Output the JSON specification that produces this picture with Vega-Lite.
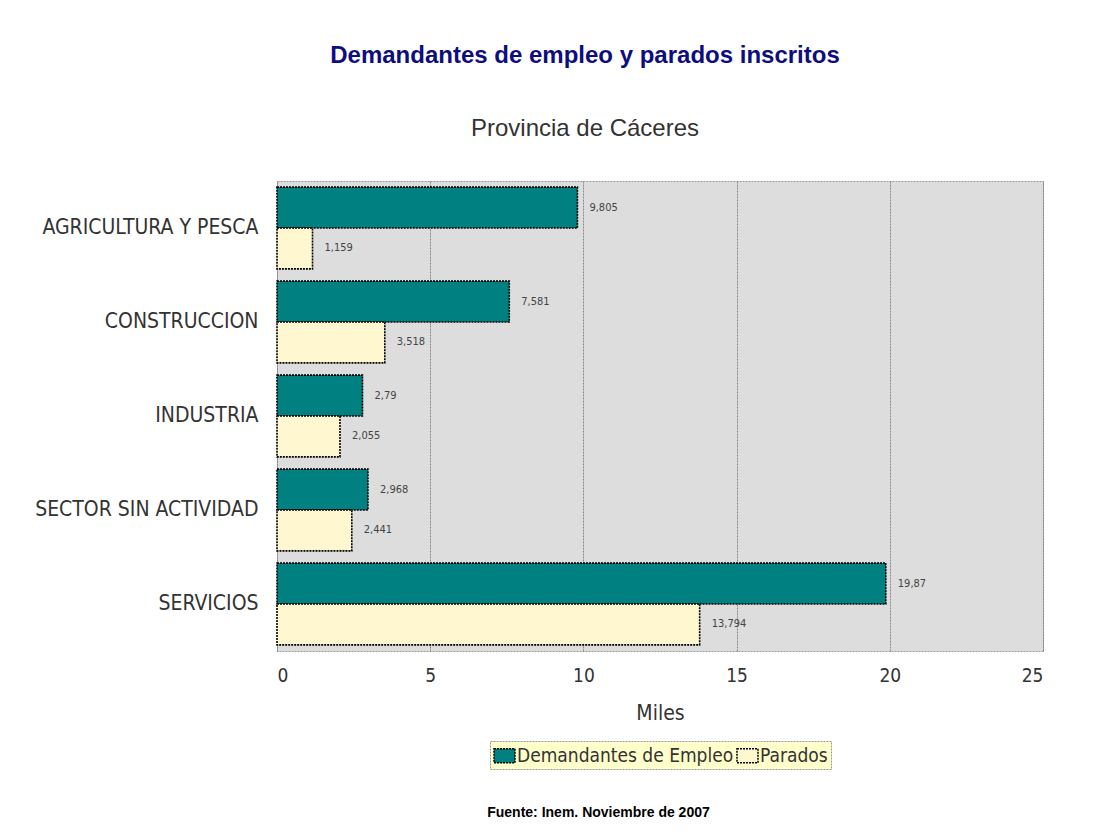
{
  "$schema": "https://vega.github.io/schema/vega-lite/v6.json",
  "width": 766,
  "height": 470,
  "autosize": {"type": "none"},
  "padding": {"left": 277, "top": 181, "right": 61, "bottom": 188},
  "background": "white",
  "title": {
    "text": "Demandantes de empleo y parados inscritos",
    "subtitle": "Provincia de Cáceres",
    "anchor": "middle",
    "dx": -75,
    "offset": 40,
    "font": "Liberation Sans",
    "fontSize": 24,
    "fontWeight": "bold",
    "color": "#0d0d80",
    "subtitleFont": "Liberation Sans",
    "subtitleFontSize": 24,
    "subtitleColor": "#333333",
    "subtitlePadding": 49
  },
  "config": {
    "locale": {"number": {"decimal": ",", "thousands": ".", "grouping": [3], "currency": ["", " €"]}},
    "view": {"fill": "#dddddd", "stroke": "#999999", "strokeDash": [2, 1]},
    "legend": {"strokeDash": [2, 1]}
  },
  "data": {
    "values": [
      {"sector": "AGRICULTURA Y PESCA", "serie": "Demandantes de Empleo", "miles": 9.805},
      {"sector": "AGRICULTURA Y PESCA", "serie": "Parados", "miles": 1.159},
      {"sector": "CONSTRUCCION", "serie": "Demandantes de Empleo", "miles": 7.581},
      {"sector": "CONSTRUCCION", "serie": "Parados", "miles": 3.518},
      {"sector": "INDUSTRIA", "serie": "Demandantes de Empleo", "miles": 2.79},
      {"sector": "INDUSTRIA", "serie": "Parados", "miles": 2.055},
      {"sector": "SECTOR SIN ACTIVIDAD", "serie": "Demandantes de Empleo", "miles": 2.968},
      {"sector": "SECTOR SIN ACTIVIDAD", "serie": "Parados", "miles": 2.441},
      {"sector": "SERVICIOS", "serie": "Demandantes de Empleo", "miles": 19.87},
      {"sector": "SERVICIOS", "serie": "Parados", "miles": 13.794}
    ]
  },
  "encoding": {
    "y": {
      "field": "sector",
      "type": "nominal",
      "sort": ["AGRICULTURA Y PESCA", "CONSTRUCCION", "INDUSTRIA", "SECTOR SIN ACTIVIDAD", "SERVICIOS"],
      "scale": {"paddingInner": 0.13, "paddingOuter": 0.065},
      "axis": {
        "title": "Fuente: Inem. Noviembre de 2007",
        "titleAngle": 0,
        "titleX": 321,
        "titleY": 631,
        "titleAlign": "center",
        "titleBaseline": "middle",
        "titleFont": "Liberation Sans",
        "titleFontSize": 14,
        "titleFontWeight": "bold",
        "titleColor": "#000000",
        "domain": false,
        "ticks": false,
        "labelPadding": 19,
        "labelFont": "DejaVu Sans Condensed",
        "labelFontSize": 21,
        "labelColor": "#333333",
        "labelLimit": 300
      }
    },
    "yOffset": {"field": "serie", "type": "nominal", "sort": ["Demandantes de Empleo", "Parados"]},
    "x": {
      "field": "miles",
      "type": "quantitative",
      "scale": {"domain": [0, 25]},
      "axis": {
        "title": "Miles",
        "values": [0, 5, 10, 15, 20, 25],
        "domain": false,
        "ticks": false,
        "grid": true,
        "gridColor": "#888888",
        "gridDash": [2, 1],
        "labelPadding": 15,
        "labelFont": "DejaVu Sans Condensed",
        "labelFontSize": 19,
        "labelColor": "#333333",
        "titleFont": "DejaVu Sans Condensed",
        "titleFontSize": 21,
        "titleFontWeight": "normal",
        "titleColor": "#333333",
        "titlePadding": 17
      }
    }
  },
  "layer": [
    {
      "mark": {"type": "bar", "stroke": "black", "strokeDash": [2, 1], "strokeWidth": 1.6},
      "encoding": {
        "fill": {
          "field": "serie",
          "type": "nominal",
          "scale": {"domain": ["Demandantes de Empleo", "Parados"], "range": ["#008080", "#FFF7D0"]},
          "legend": {
            "title": null,
            "orient": "none",
            "legendX": 213,
            "legendY": 560,
            "direction": "horizontal",
            "fillColor": "#FFFFCC",
            "strokeColor": "#999999",
            "padding": 3,
            "symbolType": "M-1,-0.67H1V0.67H-1Z",
            "symbolSize": 441,
            "symbolStrokeColor": "black",
            "symbolStrokeWidth": 1.5,
            "symbolDash": [2, 1],
            "labelFont": "DejaVu Sans Condensed",
            "labelFontSize": 19,
            "labelColor": "#333333",
            "labelOffset": 1,
            "columnPadding": 0,
            "labelLimit": 300
          }
        }
      }
    },
    {
      "mark": {"type": "text", "align": "left", "baseline": "middle", "dx": 12, "font": "DejaVu Sans Condensed", "fontSize": 11, "color": "#444444"},
      "encoding": {
        "text": {"field": "miles", "type": "quantitative", "format": ".5~g"}
      }
    }
  ]
}
